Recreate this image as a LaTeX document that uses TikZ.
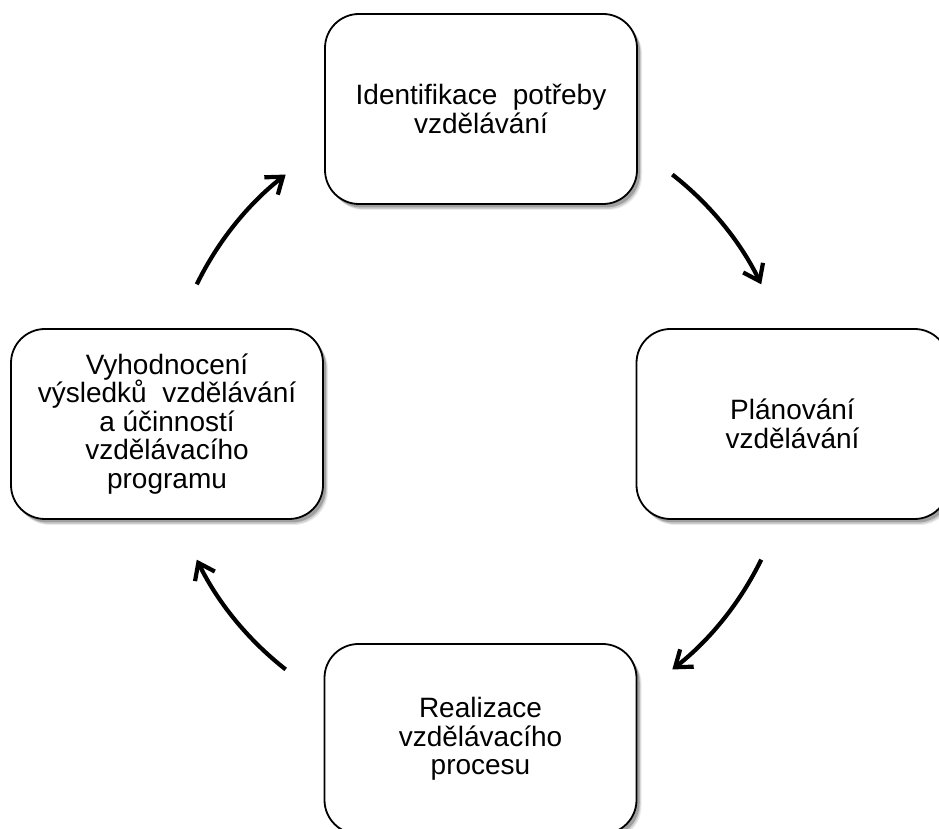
\documentclass[tikz,border=0pt]{standalone}
\usepackage{fontspec}
\setmainfont{Liberation Sans}
\usetikzlibrary{arrows.meta,shadows,calc}
\begin{document}
\begin{tikzpicture}[x=1pt,y=1pt,
  stage/.style={draw=black, line width=1.8pt, fill=white, rounded corners=34pt,
    minimum width=312pt, minimum height=190pt, inner sep=0pt, align=center,
    font=\fontsize{28}{28.5}\selectfont,
    drop shadow={shadow xshift=5pt, shadow yshift=-6pt, fill=black, opacity=0.08},
    drop shadow={shadow xshift=4pt, shadow yshift=-5pt, fill=black, opacity=0.12},
    drop shadow={shadow xshift=3pt, shadow yshift=-3.5pt, fill=black, opacity=0.22}},
  cyc/.style={line width=4.2pt, -{Straight Barb[length=15pt,width=22pt]}}]
\useasboundingbox (0,0) rectangle (939,829);
\fill[white] (0,0) rectangle (939,829);
\node[stage] (top) at (481,720) {Identifikace~~potřeby\\vzdělávání};
\node[stage] (right) at (792.5,405) {Plánování\\vzdělávání};
\node[stage] (bottom) at (480.5,90) {Realizace\\vzdělávacího\\procesu};
\node[stage] (left) at (167,405) {Vyhodnocení\\výsledků~~vzdělávání\\a účinností\\vzdělávacího\\programu};
\coordinate (c) at (479,407);
\coordinate (a1) at ($(c)+(154:314)$);
\coordinate (a2) at ($(c)+(52:314)$);
\coordinate (a3) at ($(c)+(-26:314)$);
\coordinate (a4) at ($(c)+(-128:314)$);
\draw[cyc] (a1) arc[start angle=154, end angle=128, radius=314];
\draw[cyc] (a2) arc[start angle=52, end angle=26, radius=314];
\draw[cyc] (a3) arc[start angle=-26, end angle=-52, radius=314];
\draw[cyc] (a4) arc[start angle=-128, end angle=-154, radius=314];
\end{tikzpicture}
\end{document}
